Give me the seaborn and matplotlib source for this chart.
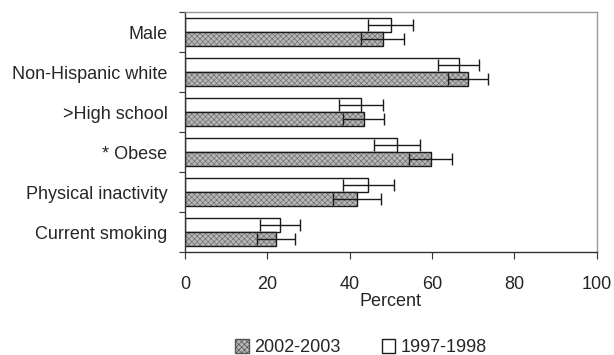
import matplotlib
matplotlib.use("Agg")
import matplotlib.pyplot as plt
from matplotlib.patches import Patch, Rectangle
import seaborn as sns
import pandas as pd
import numpy as np

categories = ["Male", "Non-Hispanic white", ">High school", "* Obese",
              "Physical inactivity", "Current smoking"]
periods = ["1997-1998", "2002-2003"]
pct_1997 = [50.0, 66.5, 42.7, 51.5, 44.5, 23.1]
err_1997 = [5.5, 5.0, 5.3, 5.5, 6.2, 4.9]
pct_2002 = [48.0, 68.8, 43.4, 59.7, 41.7, 22.2]
err_2002 = [5.3, 4.8, 5.0, 5.2, 5.8, 4.6]
xticks = [0, 20, 40, 60, 80, 100]

df = pd.DataFrame({
    "category": categories * 2,
    "period": [periods[0]] * len(categories) + [periods[1]] * len(categories),
    "percent": pct_1997 + pct_2002,
    "err": err_1997 + err_2002,
})

sns.set_theme(style="white")
plt.rcParams["font.family"] = ["Liberation Sans", "DejaVu Sans"]
plt.rcParams["hatch.linewidth"] = 0.5

fig = plt.figure(figsize=(6.14, 3.55), dpi=100)
ax = fig.add_axes([0.301, 0.290, 0.671, 0.676])

sns.barplot(data=df, y="category", x="percent", hue="period",
            order=categories, hue_order=periods, orient="h",
            width=0.68, errorbar=None, legend=False, ax=ax)

fills = {periods[0]: "white", periods[1]: "#b8b8b8"}
hatch_ink = {periods[0]: "#1a1a1a", periods[1]: "#707070"}
hatches = {periods[0]: "", periods[1]: "xxxxxx"}
for container, period in zip(ax.containers, periods):
    sub = df[df["period"] == period].set_index("category").loc[categories]
    ys = []
    for bar in container:
        bar.set_facecolor(fills[period])
        bar.set_edgecolor(hatch_ink[period])
        bar.set_linewidth(0.0 if hatches[period] else 1.0)
        bar.set_hatch(hatches[period])
        if hatches[period]:
            # dark outline on top of the softer hatch texture
            ax.add_patch(Rectangle(bar.get_xy(), bar.get_width(), bar.get_height(),
                                   fill=False, edgecolor="#1a1a1a", linewidth=1.0,
                                   zorder=bar.get_zorder() + 0.1))
        ys.append(bar.get_y() + bar.get_height() / 2)
    ax.errorbar(sub["percent"].values, ys, xerr=sub["err"].values,
                fmt="none", ecolor="#1a1a1a", elinewidth=1.0,
                capsize=4, capthick=1.0, zorder=5)

ax.set_xlim(0, 100)
ax.set_ylim(len(categories) - 0.5, -0.5)
ax.set_xticks(xticks)
ax.set_xticklabels([str(t) for t in xticks], fontsize=13)
ax.set_yticks(np.arange(len(categories)))
ax.set_yticklabels(categories, fontsize=13)
ax.tick_params(axis="y", length=0, pad=12.5)
ax.set_yticks(np.arange(len(categories) + 1) - 0.5, minor=True)
ax.tick_params(axis="y", which="minor", length=4, width=0.8, direction="out",
               color="#333333", left=True)
ax.tick_params(axis="x", length=5, width=0.8, direction="out",
               color="#333333", bottom=True, pad=12)
ax.set_xlabel("Percent", fontsize=13, labelpad=0)
ax.set_ylabel("")

for side in ["left", "bottom"]:
    ax.spines[side].set_color("#333333")
    ax.spines[side].set_linewidth(1.0)
for side in ["top", "right"]:
    ax.spines[side].set_color("#9a9a9a")
    ax.spines[side].set_linewidth(1.0)

handles = [Patch(facecolor=fills[periods[1]], edgecolor="#555555",
                 hatch=hatches[periods[1]], label=periods[1]),
           Patch(facecolor="white", edgecolor="#1a1a1a", label=periods[0])]
fig.legend(handles=handles, loc="center", bbox_to_anchor=(0.588, 0.02),
           ncol=2, frameon=False, fontsize=13, handlelength=0.75,
           handleheight=0.75, handletextpad=0.3, columnspacing=2.3)

fig.savefig("out.png", dpi=100)
